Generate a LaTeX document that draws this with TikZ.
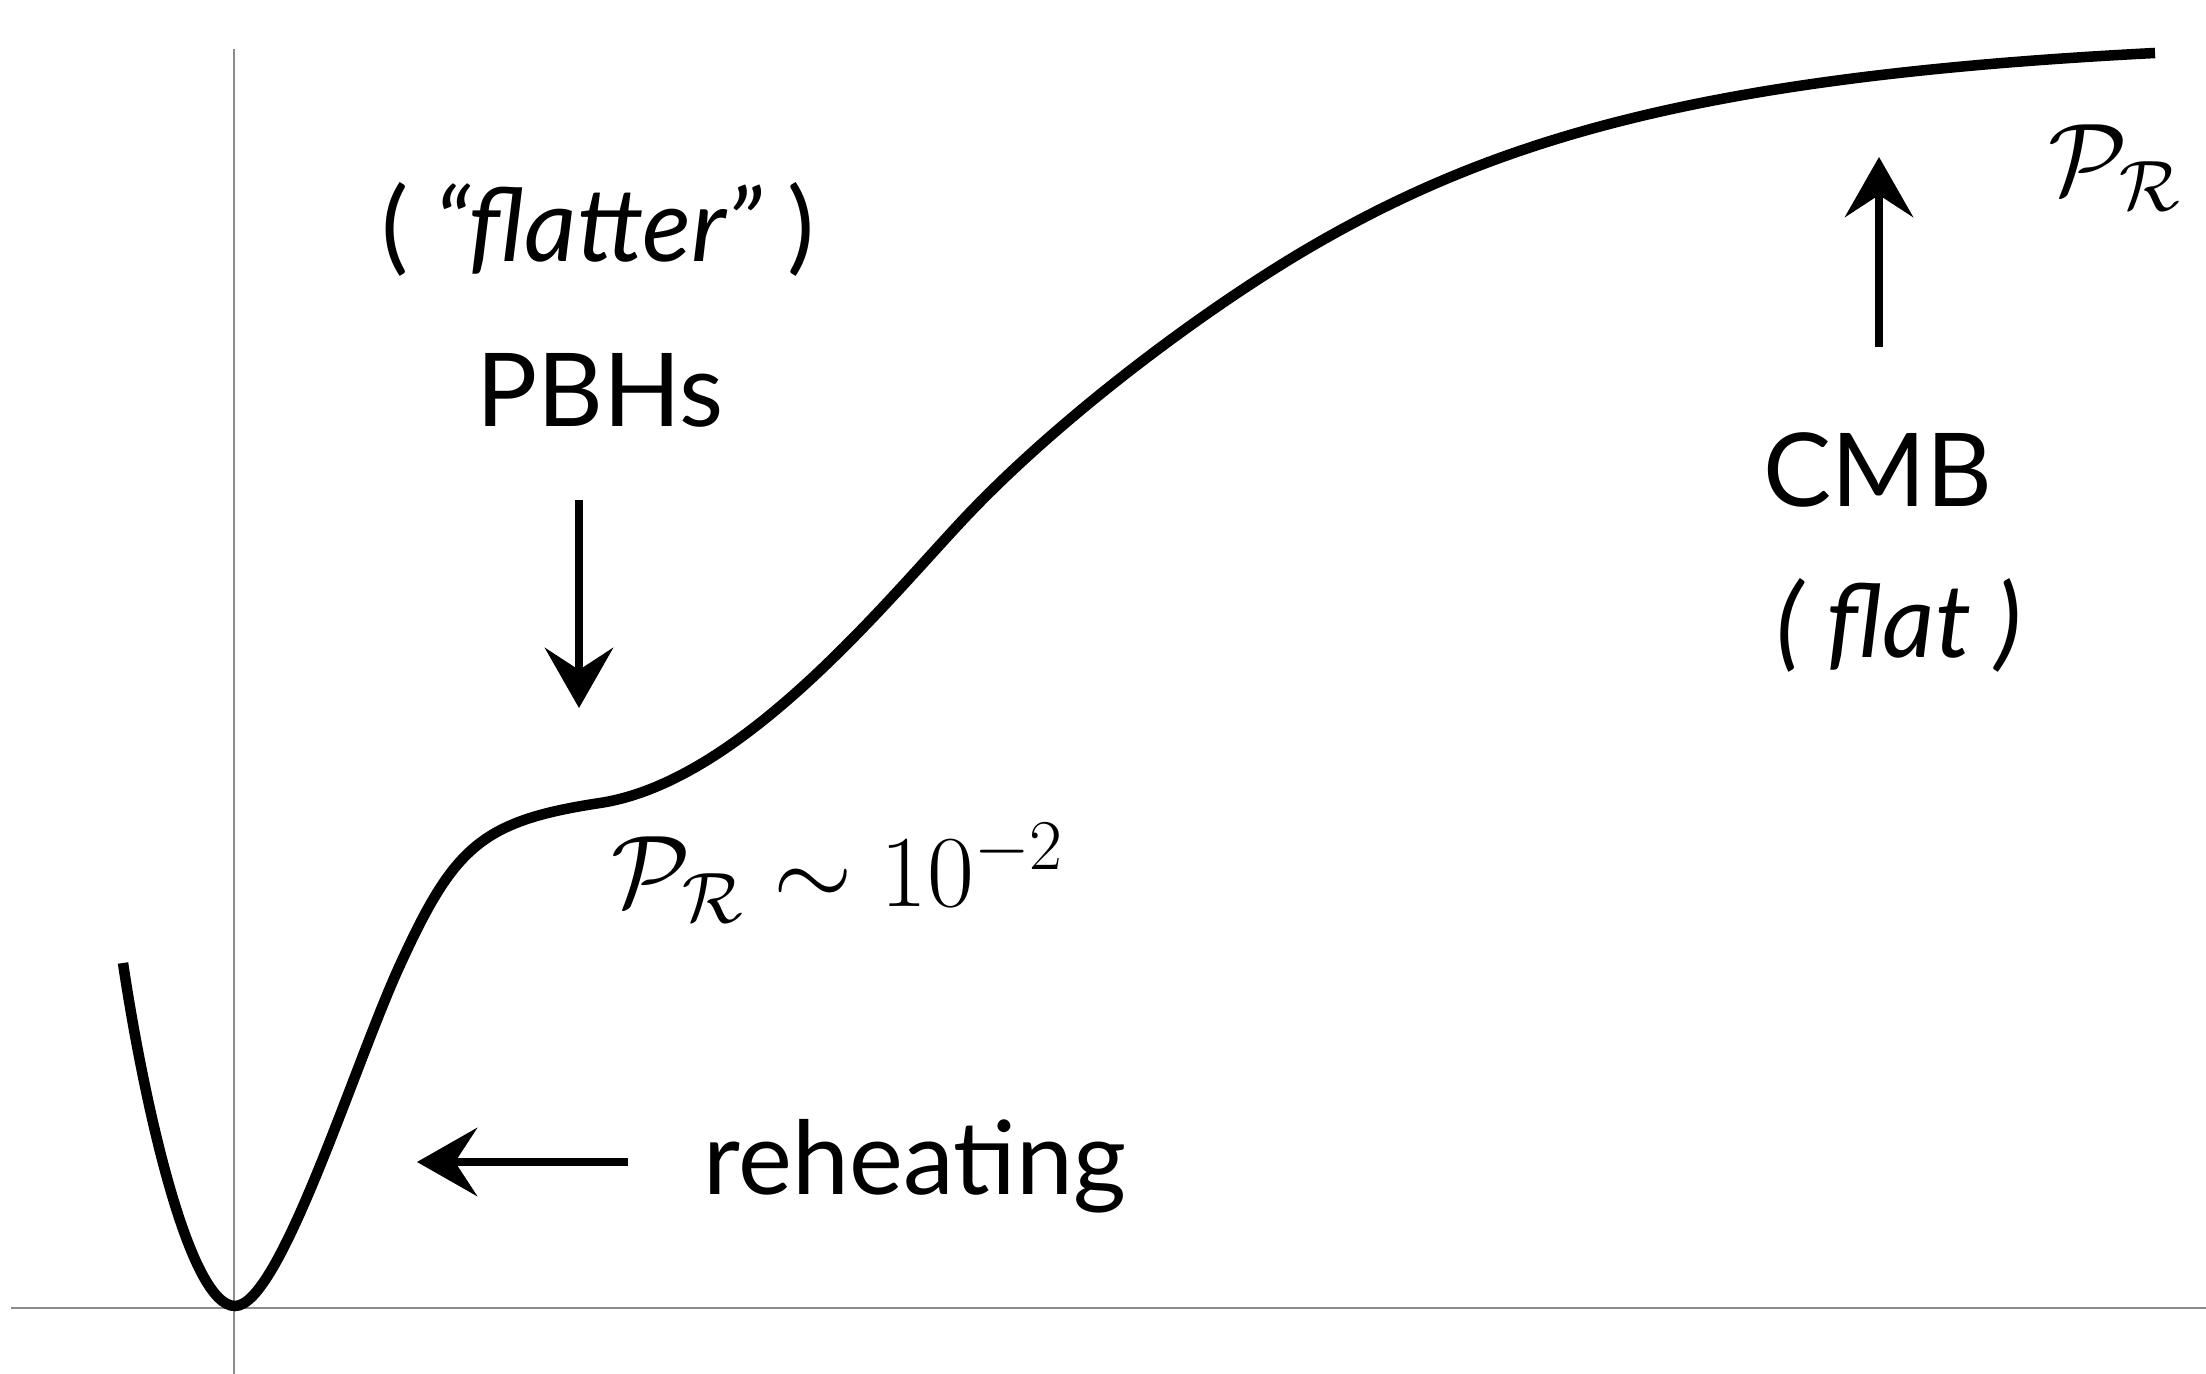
\documentclass[tikz,border=0pt]{standalone}
\usepackage{fix-cm}
\usepackage{fontspec}
\setmainfont{Lato}
\usetikzlibrary{arrows.meta,positioning}
\tikzset{
  lbl/.style={inner sep=0pt, font=\fontsize{29}{34}\selectfont},
  arr/.style={-{Stealth[length=0.6cm, width=0.68cm, inset=0.22cm]}, line width=0.085cm},
  axis/.style={draw=black!45, line width=0.02cm},
  spec/.style={line width=0.105cm},
}

\begin{document}
\begin{tikzpicture}[x=0.01cm, y=-0.01cm]
  \useasboundingbox (0,0) rectangle (2206,1374);

  % Axes
  \draw[axis] (11,1308) -- (2206,1308);
  \draw[axis] (234,49) -- (234,1374);

  % Spectrum
  \draw[spec] (123,963) .. controls (145,1110) and (190,1306) .. (235,1306)
    .. controls (280,1306) and (354,1065) .. (400,965)
    .. controls (454,847) and (481,821) .. (600,803)
    .. controls (738,782) and (878,611) .. (960,523)
    .. controls (1048,428) and (1186,322) .. (1297,255)
    .. controls (1494,137) and (1706,76) .. (2155,53);

  % Labels
  \node[lbl, anchor=base] (flatter) at (598,262) {( \textit{“flatter”} )};
  \node[lbl, anchor=base] (pbh) at (600,427) {PBHs};
  \node[lbl, anchor=base] (cmb) at (1878,507) {CMB};
  \node[lbl, anchor=base] (flat) at (1899,658) {\textit{( flat )}};
  \node[lbl, anchor=base] (reheat) at (915,1195) {reheating};
  \node[lbl, anchor=base] (prtop) at (2115,195) {$\mathcal{P}_{\mathcal{R}}$};
  \node[lbl, anchor=base] (prpeak) at (838,907) {$\mathcal{P}_{\mathcal{R}}\sim 10^{-2}$};

  % Arrows
  \coordinate (pbhtail) at (579,500);
  \coordinate (pbhtip) at (579,708);
  \coordinate (cmbtail) at (1879,347);
  \coordinate (cmbtip) at (1879,157);
  \coordinate (reheattail) at (628,1162);
  \coordinate (reheattip) at (417,1162);
  \draw[arr] (pbhtail) -- (pbhtip);
  \draw[arr] (cmbtail) -- (cmbtip);
  \draw[arr] (reheattail) -- (reheattip);
\end{tikzpicture}
\end{document}
